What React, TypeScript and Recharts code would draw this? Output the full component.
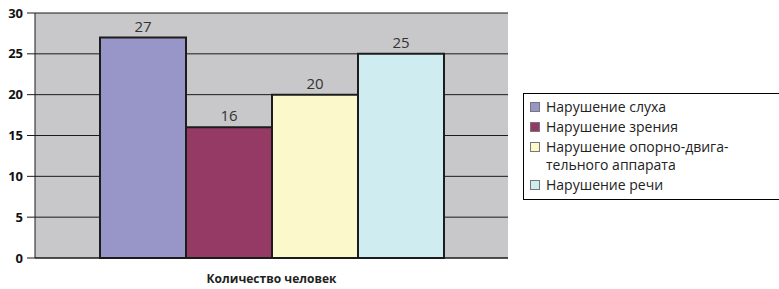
import React from 'react';
import { BarChart, Bar, XAxis, YAxis, CartesianGrid, Legend, LabelList } from 'recharts';

const categories = ['Количество человек'];
const seriesNames = ['Нарушение слуха', 'Нарушение зрения', 'Нарушение опорно-двигательного аппарата', 'Нарушение речи'];
const legendLines = [['Нарушение слуха'], ['Нарушение зрения'], ['Нарушение опорно-двига-', 'тельного аппарата'], ['Нарушение речи']];
const seriesValues = [[27], [16], [20], [25]];
const seriesColors = ['#9896c8', '#953a64', '#fbf8cc', '#cfecf0'];
const yTicks = [0, 5, 10, 15, 20, 25, 30];

const data = categories.map((name, i) => {
  const row: Record<string, string | number> = { name };
  seriesNames.forEach((s, j) => {
    row['s' + j] = seriesValues[j][i];
  });
  return row;
});

const font = '"Open Sans", "Noto Sans", sans-serif';

// legend box runs past the right edge of the picture, as in the original
const LegendBox = () => (
  <div
    style={{
      border: '1px solid #000',
      background: '#fff',
      padding: '4px 6px 5px 6px',
      fontFamily: font,
      fontSize: 14,
      color: '#222',
      lineHeight: '18px',
      width: 266,
      boxSizing: 'border-box',
    }}
  >
    {legendLines.map((lines, i) => (
      <div key={i} style={{ display: 'flex', alignItems: 'flex-start', marginBottom: i < 3 ? 2 : 0 }}>
        <span
          style={{
            display: 'inline-block',
            width: 8,
            height: 8,
            marginTop: 4,
            marginRight: 6,
            background: seriesColors[i],
            border: '1px solid #777',
            flexShrink: 0,
          }}
        />
        <span>
          {lines.map((l, k) => (
            <div key={k}>{l}</div>
          ))}
        </span>
      </div>
    ))}
  </div>
);

export default function App() {
  return (
    <div style={{ position: 'absolute', left: 0, top: 0, width: 779, height: 289, background: '#fff', overflow: 'hidden' }}>
      <BarChart
        width={779}
        height={289}
        data={data}
        margin={{ top: 13, right: 271, bottom: 0, left: 0 }}
        barCategoryGap={65}
        barGap={0}
      >
        <CartesianGrid vertical={false} stroke="#1a1a1a" fill="#c8c8ca" strokeWidth={1} />
        <XAxis
          dataKey="name"
          height={31}
          axisLine={{ stroke: '#1a1a1a' }}
          tickLine={false}
          tick={{ fill: '#222', fontSize: 12, fontWeight: 700, fontFamily: font }}
          tickMargin={10}
        />
        <YAxis
          width={35}
          domain={[0, 30]}
          ticks={yTicks}
          interval={0}
          axisLine={{ stroke: '#1a1a1a' }}
          tickLine={{ stroke: '#1a1a1a' }}
          tickSize={8}
          tickMargin={4}
          tick={{ fill: '#111', fontSize: 13, fontWeight: 700, fontFamily: font }}
        />
        <YAxis
          yAxisId="border"
          orientation="right"
          width={0}
          domain={[0, 30]}
          axisLine={{ stroke: '#9a9a9a', strokeWidth: 2 }}
          tickLine={false}
          tick={false}
        />
        <Legend
          layout="horizontal"
          align="center"
          verticalAlign="middle"
          wrapperStyle={{ left: 523, top: 93, width: 266 }}
          content={() => <LegendBox />}
        />
        {seriesNames.map((s, j) => (
          <Bar
            key={s}
            dataKey={'s' + j}
            name={s}
            fill={seriesColors[j]}
            stroke="#1c1c1c"
            strokeWidth={2}
            isAnimationActive={false}
          >
            <LabelList dataKey={'s' + j} position="top" offset={6} fill="#333" fontSize={15} fontFamily={font} />
          </Bar>
        ))}
      </BarChart>
    </div>
  );
}
